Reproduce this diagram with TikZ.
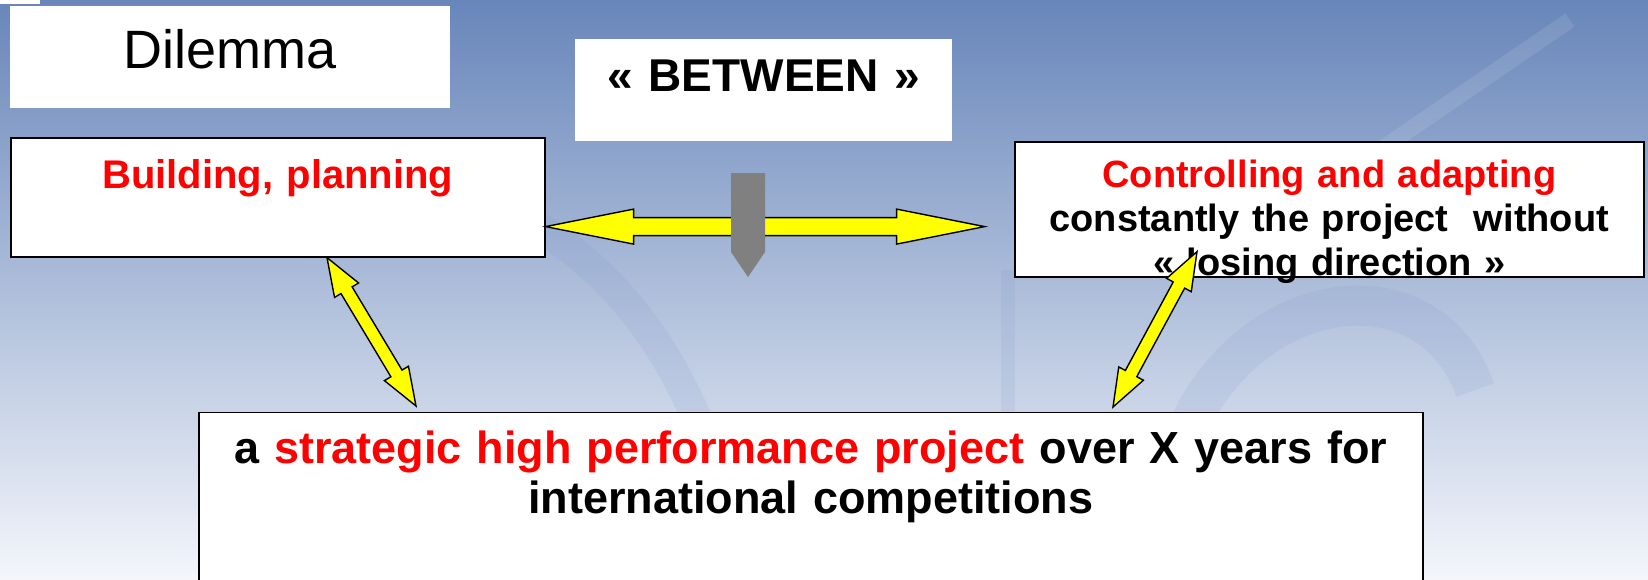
\documentclass[tikz,border=0pt]{standalone}
\usepackage{fontspec}
\setmainfont{Liberation Sans}
\usetikzlibrary{calc}

\definecolor{bgtop}{RGB}{104,134,186}
\definecolor{bgmid}{RGB}{190,203,228}
\definecolor{bgbot}{RGB}{244,246,251}
\definecolor{swoosh}{RGB}{120,145,200}
\definecolor{arrowyellow}{RGB}{255,255,0}
\definecolor{pointergray}{RGB}{128,128,128}

\tikzset{
  box/.style={draw=black, line width=1.6pt, fill=white, inner sep=0pt, align=center},
  plainbox/.style={fill=white, inner sep=0pt, align=center},
  arrowbody/.style={fill=arrowyellow, draw=black, line width=1.4pt, line join=miter},
  band/.style={draw=swoosh, opacity=0.13, line cap=butt}
}

% double headed block arrow: ends, head length, head half width, shaft half width
\newcommand{\yellowarrow}[5]{%
  \filldraw[arrowbody]
    (#1) -- ($(#1)!#3!(#2)!#4!90:(#2)$) -- ($(#1)!#3!(#2)!#5!90:(#2)$)
    -- ($(#2)!#3!(#1)!#5!-90:(#1)$) -- ($(#2)!#3!(#1)!#4!-90:(#1)$)
    -- (#2) -- ($(#2)!#3!(#1)!#4!90:(#1)$) -- ($(#2)!#3!(#1)!#5!90:(#1)$)
    -- ($(#1)!#3!(#2)!#5!-90:(#2)$) -- ($(#1)!#3!(#2)!#4!-90:(#2)$) -- cycle;}

\begin{document}
\begin{tikzpicture}[x=1pt,y=-1pt]
\useasboundingbox (0,0) rectangle (1648,579);
\clip (0,0) rectangle (1648,579);

% background
\shade[top color=bgtop, middle color=bgmid, bottom color=bgbot] (0,0) rectangle (1648,579);
\draw[band, line width=30pt] (540,228) .. controls (640,290) and (710,400) .. (745,579);
\draw[band, line width=40pt] (1160,579) .. controls (1150,300) and (1420,230) .. (1475,390);
\draw[band, line width=14pt] (1008,270) -- (1008,420);
\draw[band, line width=16pt, draw=white, opacity=0.1] (1380,150) -- (1570,20);
\fill[white] (0,0) rectangle (40,4);

\node[plainbox, anchor=north west, text width=440pt, text height=62pt, text depth=40pt,
  font=\fontsize{54}{60}\selectfont] (dilemma) at (10,6) {Dilemma};
\node[plainbox, anchor=north west, text width=377pt, text height=52pt, text depth=50pt,
  font=\fontsize{46}{52}\selectfont\bfseries] (between) at (575,39) {« BETWEEN »};
\node[box, anchor=north west, text width=534pt, text height=51pt, text depth=68pt,
  font=\fontsize{40}{46}\selectfont\bfseries, text=red] (plan) at (10,137) {Building,\ planning};
\node[box, anchor=north west, text width=629pt, text height=46pt, text depth=89pt,
  font=\fontsize{38}{44}\selectfont\bfseries] (adapt) at (1014,141)
  {\textcolor{red}{Controlling and adapting}\\constantly the project\ \ without\\« losing direction »};
\node[box, anchor=north west, text width=1224pt, text height=51.5pt, text depth=180pt,
  font=\fontsize{45}{50}\selectfont\bfseries] (project) at (198,411.5)
  {a \textcolor{red}{strategic high performance project} over X years for\\international competitions};

\coordinate (hl) at ($(plan.south east)+(0,-31)$);
\coordinate (hr) at ($(hl)+(439,0)$);
\yellowarrow{hl}{hr}{88pt}{17.5pt}{9pt}
\fill[pointergray] (731,173) -- (765,173) -- (765,252) -- (748,277) -- (731,252) -- cycle;

\coordinate (pl) at ($(plan.south west)+(317,0)$);
\coordinate (ql) at ($(project.north west)+(218,-5.5)$);
\yellowarrow{pl}{ql}{38pt}{14pt}{6.5pt}

\coordinate (pr) at ($(adapt.south west)+(183,-26)$);
\coordinate (qr) at ($(project.north west)+(915,-4.5)$);
\yellowarrow{qr}{pr}{38pt}{14pt}{6.5pt}
\end{tikzpicture}
\end{document}
